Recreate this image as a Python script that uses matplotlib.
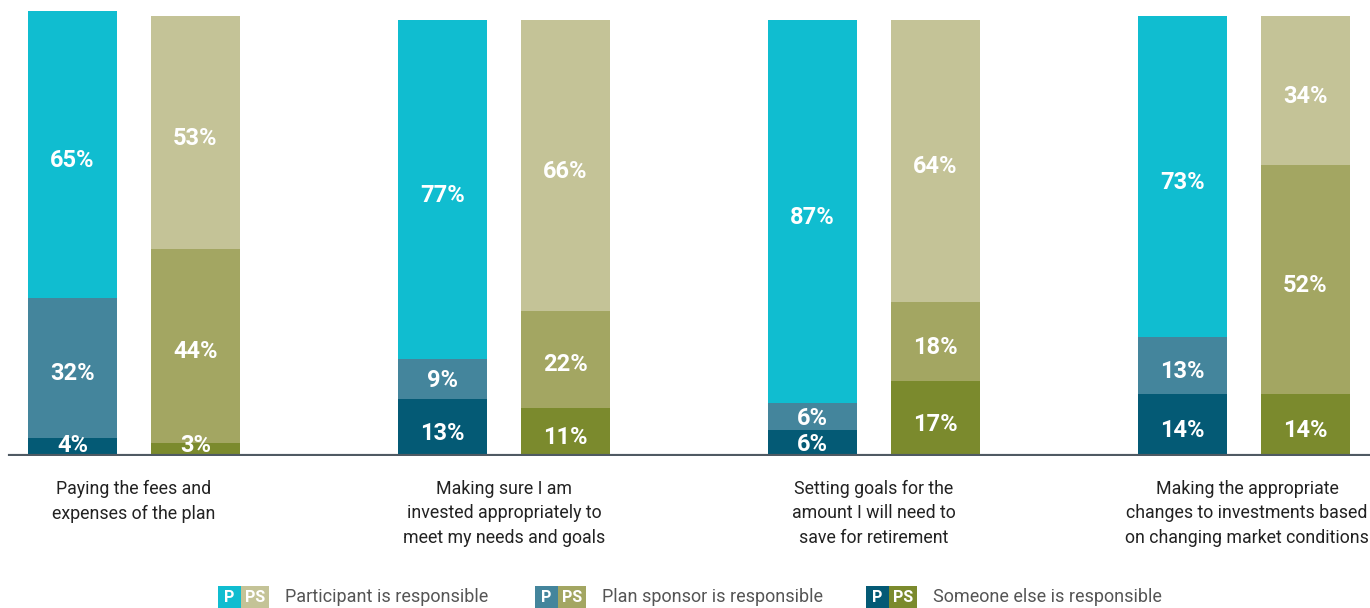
import matplotlib.pyplot as plt
import matplotlib.patches as mpatches

# Survey: who is responsible for each plan task (P = participants, PS = plan sponsors)
categories = [
    "Paying the fees and\nexpenses of the plan",
    "Making sure I am\ninvested appropriately to\nmeet my needs and goals",
    "Setting goals for the\namount I will need to\nsave for retirement",
    "Making the appropriate\nchanges to investments based\non changing market conditions",
]
series = ["Participant is responsible", "Plan sponsor is responsible", "Someone else is responsible"]

# stacked bottom-to-top: someone else, plan sponsor, participant
p_else = [4, 13, 6, 14]
p_sponsor = [32, 9, 6, 13]
p_participant = [65, 77, 87, 73]

ps_else = [3, 11, 17, 14]
ps_sponsor = [44, 22, 18, 52]
ps_participant = [53, 66, 64, 34]

p_colors = ["#10bdd0", "#44859c", "#045a75"]
ps_colors = ["#c4c397", "#a3a662", "#7b8a2d"]

fig = plt.figure(figsize=(13.7, 6.08), dpi=100)
ax = fig.add_axes([0, 0.25, 1, 0.75])
ax.set_xlim(0, 1370)
ax.set_ylim(0, 103.6)
ax.axis("off")

bar_w = 89
group_step = 370
first_left = 28
ps_offset = 123


def draw_stack(x_left, stack, colors):
    bottom = 0
    for val, col in zip(stack, colors):
        ax.bar(x_left, val, width=bar_w, bottom=bottom, color=col, align="edge", linewidth=0)
        mid = bottom + val / 2
        shift = 1.3 if val >= 10 else 0.4
        y = max(mid - shift, 2.3)
        ax.text(x_left + bar_w / 2, y, f"{val}%", ha="center", va="center",
                color="white", fontsize=17, fontweight="bold", family="Roboto")
        bottom += val


for i in range(len(categories)):
    x0 = first_left + group_step * i
    draw_stack(x0, [p_else[i], p_sponsor[i], p_participant[i]], p_colors[::-1])
    draw_stack(x0 + ps_offset, [ps_else[i], ps_sponsor[i], ps_participant[i]], ps_colors[::-1])
    cx = x0 + (ps_offset + bar_w) / 2
    if i == 3:
        cx += 3
    fig.text(cx / 1370, 1 - 480 / 608, categories[i], ha="center", va="top",
             fontsize=12.8, color="#222222", family="Roboto", linespacing=1.45)

# baseline
ax.axhline(0, xmin=10 / 1370, xmax=1, color="#4f5a63", linewidth=3, zorder=3)

# legend: paired P / PS swatches
legend_x = [218, 535, 866]
for lx, name, pc, psc in zip(legend_x, series, p_colors, ps_colors):
    fy = 1 - 608 / 608
    h = 22 / 608
    fig.patches.append(mpatches.Rectangle((lx / 1370, fy), 23 / 1370, h,
                                          transform=fig.transFigure, color=pc, linewidth=0))
    fig.patches.append(mpatches.Rectangle(((lx + 23) / 1370, fy), 28 / 1370, h,
                                          transform=fig.transFigure, color=psc, linewidth=0))
    fig.text((lx + 11.5) / 1370, 1 - 597 / 608, "P", ha="center", va="center",
             color="white", fontsize=11.5, fontweight="bold", family="Roboto")
    fig.text((lx + 37) / 1370, 1 - 597 / 608, "PS", ha="center", va="center",
             color="white", fontsize=11.5, fontweight="bold", family="Roboto")
    fig.text((lx + 67) / 1370, 1 - 597 / 608, name, ha="left", va="center",
             color="#555555", fontsize=13, family="Roboto")

fig.savefig("out.png", dpi=100)
